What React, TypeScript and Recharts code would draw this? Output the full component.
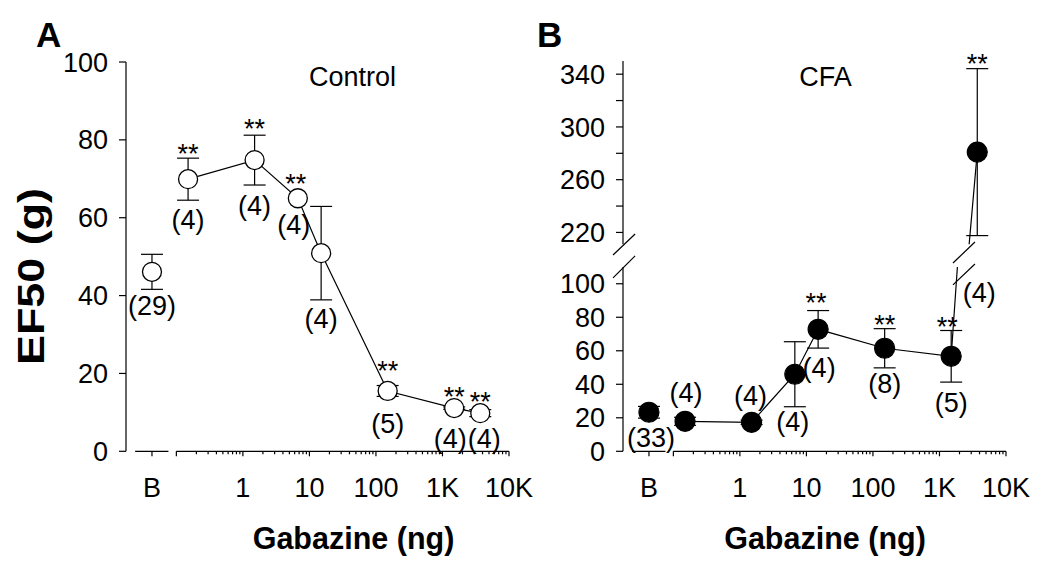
import React from 'react';
import { LineChart, Line, XAxis, YAxis, ErrorBar, ReferenceLine, LabelList } from 'recharts';

const FONT = '"Liberation Sans", Arial, Helvetica, sans-serif';
const W = 1050;
const H = 573;

// ---------- data ----------
const doses = [0.15, 1.5, 6.7, 15, 150, 1500, 3700]; // Gabazine (ng)
const BASELINE_X = 0.043; // where the "B" (baseline) category sits on the dose axis

const controlBaseMean = 46.1;
const controlBaseSem = 4.5;
const controlBaseN = 29;
const controlMeans = [69.9, 74.8, 65.0, 50.9, 15.5, 11.1, 9.8];
const controlSems: (number | null)[] = [5.4, 6.4, null, 12, 1.4, 0.3, 0.9];
const controlN = [4, 4, 4, 4, 5, 4, 4];
const controlSig = ['**', '**', '**', '', '**', '**', '**'];

const cfaBaseMean = 23.3;
const cfaBaseSem = 3.5;
const cfaBaseN = 33;
const cfaMeans = [17.9, 17.3, 46.0, 72.8, 61.5, 56.7, 280.9];
const cfaSems: (number | null)[] = [2.4, 1.3, 19.4, 11.2, 11.7, 15.4, 63.3];
const cfaN = [4, 4, 4, 4, 8, 5, 4];
const cfaSig = ['', '', '', '**', '**', '**', '**'];

// ticks
const xMajorTicks = [0.1, 1, 10, 100, 1000, 10000];
const xMajorLabels = ['', '1', '10', '100', '1K', '10K'];
const xMinorTicks = [
  0.2, 0.3, 0.4, 0.5, 0.6, 0.7, 0.8, 0.9,
  2, 3, 4, 5, 6, 7, 8, 9,
  20, 30, 40, 50, 60, 70, 80, 90,
  200, 300, 400, 500, 600, 700, 800, 900,
  2000, 3000, 4000, 5000, 6000, 7000, 8000, 9000,
];
const controlYTicks = [0, 20, 40, 60, 80, 100];
const cfaLowerYTicks = [0, 20, 40, 60, 80, 100];
const cfaUpperYTicks = [220, 240, 260, 280, 300, 320, 340];
const cfaUpperYLabels = [220, 260, 300, 340];

// ---------- layout / style (not data) ----------
const X_DOMAIN: [number, number] = [0.0175, 10000];
const B_SEGMENT = [0.024, 0.076];
const LOWER_MAX = 110;
const UPPER_DOMAIN: [number, number] = [211, 350];
const TXT = 27;

// error bars small enough to sit inside the marker are drawn on top of it
const controlBaseErrOnTop = false;
const controlErrOnTop = [false, false, false, false, true, true, true];
const cfaBaseErrOnTop = true;
const cfaErrOnTop = [true, true, false, false, false, false, false];

// annotation offsets [dx, dy] relative to the marker centre (index 0 = baseline)
const controlNOffsets: ([number, number] | null)[] = [[0, 43], [0, 50], [0, 55], [-4, 36], [0, 75], [0, 42], [-4, 40], [4, 35]];
const controlStarOffsets: ([number, number] | null)[] = [null, [0, -16], [0, -22], [-2, -5], null, [0, -11], [0, -2], [0, -2]];
const cfaNOffsets: ([number, number] | null)[] = [[2, 35], [1, -19], [-1, -17], [-2, 57], [1, 48], [0, 45], [0, 56], [2, 150]];
const cfaStarOffsets: ([number, number] | null)[] = [null, null, null, null, [-2, -17], [0, -14], [-4, -20], [0, -79]];

// axis-break marks (data coordinates)
const upperBreakMarks = [
  [{ x: 0.0124, y: 202.9 }, { x: 0.0266, y: 218.8 }],
  [{ x: 1596, y: 196.8 }, { x: 3412, y: 212.7 }],
];
const lowerBreakMarks = [
  [{ x: 0.0124, y: 103.5 }, { x: 0.0266, y: 116.6 }],
  [{ x: 1596, y: 99.3 }, { x: 3412, y: 111.8 }],
];

type Row = {
  x: number;
  base?: number;
  baseSem?: number;
  baseSemTop?: number;
  mean?: number;
  sem?: number;
  semTop?: number;
  n: number;
  sig: string;
};

function buildRows(
  baseMean: number, baseSem: number, baseN: number, baseTop: boolean,
  means: number[], sems: (number | null)[], ns: number[], sigs: string[], tops: boolean[],
): Row[] {
  return [
    { x: BASELINE_X, base: baseMean, baseSem, baseSemTop: baseTop ? baseSem : undefined, n: baseN, sig: '' },
    ...doses.map((d, i) => ({
      x: d,
      mean: means[i],
      sem: sems[i] == null ? undefined : (sems[i] as number),
      semTop: tops[i] && sems[i] != null ? (sems[i] as number) : undefined,
      n: ns[i],
      sig: sigs[i],
    })),
  ];
}

const controlRows = buildRows(controlBaseMean, controlBaseSem, controlBaseN, controlBaseErrOnTop,
  controlMeans, controlSems, controlN, controlSig, controlErrOnTop);
const cfaRows = buildRows(cfaBaseMean, cfaBaseSem, cfaBaseN, cfaBaseErrOnTop,
  cfaMeans, cfaSems, cfaN, cfaSig, cfaErrOnTop);

const allXTicks = [BASELINE_X, ...xMajorTicks, ...xMinorTicks];

const XTick = (props: any) => {
  const { x, y, payload } = props;
  const v = payload.value;
  const isBase = Math.abs(v - BASELINE_X) < 1e-9;
  const mi = xMajorTicks.findIndex((t) => Math.abs(t - v) < 1e-9);
  const major = isBase || mi >= 0;
  const label = isBase ? 'B' : mi >= 0 ? xMajorLabels[mi] : '';
  return (
    <g>
      <line x1={x} x2={x} y1={y} y2={y + (major ? 5 : 3)} stroke="#000" strokeWidth={1.2} />
      {label ? (
        <text x={x} y={y + 46} textAnchor="middle" fontSize={TXT} fontFamily={FONT} fill="#000">
          {label}
        </text>
      ) : null}
    </g>
  );
};

function makeLabelContent(
  rows: Row[], key: 'mean' | 'base',
  nOff: ([number, number] | null)[], starOff: ([number, number] | null)[],
  inRange: (v: number) => boolean,
) {
  return (props: any) => {
    const i = props.index;
    const row = rows[i];
    if (!row) return null;
    const v = row[key];
    if (v == null || !inRange(v)) return null;
    const vb = props.viewBox || {};
    const cx = vb.x ?? props.x;
    const cy = vb.y ?? props.y;
    if (cx == null || cy == null) return null;
    const no = nOff[i];
    const so = starOff[i];
    return (
      <g>
        {no ? (
          <text x={cx + no[0]} y={cy + no[1]} textAnchor="middle" fontSize={TXT} fontFamily={FONT} fill="#000">
            ({row.n})
          </text>
        ) : null}
        {so && row.sig ? (
          <text x={cx + so[0]} y={cy + so[1]} textAnchor="middle" fontSize={TXT} fontFamily={FONT} fill="#000">
            {row.sig}
          </text>
        ) : null}
      </g>
    );
  };
}

const axisStroke = { stroke: '#000', strokeWidth: 1.2 };
const yTickStyle = { fontSize: TXT, fill: '#000', fontFamily: FONT };

type PanelProps = {
  rows: Row[];
  filled: boolean;
  margin: { top: number; right: number; bottom: number; left: number };
  yDomain: [number, number];
  yTicks: number[];
  yFormatter?: (v: number) => string;
  showX: boolean;
  overflow: boolean;
  inRange: (v: number) => boolean;
  nOff: ([number, number] | null)[];
  starOff: ([number, number] | null)[];
  breakMarks?: { x: number; y: number }[][];
};

function Panel(p: PanelProps) {
  const dot = p.filled
    ? { r: 10, fill: '#000', stroke: '#000', strokeWidth: 1.2 }
    : { r: 9.5, fill: '#fff', stroke: '#000', strokeWidth: 1.3 };
  const innerStroke = p.filled ? '#fff' : '#000';
  // error bars are only drawn for points that lie inside this axis segment
  const rows: Row[] = p.rows.map((r) => {
    const baseIn = r.base != null && p.inRange(r.base);
    const meanIn = r.mean != null && p.inRange(r.mean);
    return {
      ...r,
      baseSem: baseIn ? r.baseSem : undefined,
      baseSemTop: baseIn ? r.baseSemTop : undefined,
      sem: meanIn ? r.sem : undefined,
      semTop: meanIn ? r.semTop : undefined,
    };
  });
  return (
    <div style={{ position: 'absolute', left: 0, top: 0, width: W, height: H }}>
      <LineChart width={W} height={H} data={rows} margin={p.margin}>
        <XAxis
          dataKey="x"
          type="number"
          scale="log"
          domain={X_DOMAIN}
          allowDataOverflow
          ticks={allXTicks}
          tick={XTick}
          tickSize={0}
          tickMargin={0}
          tickLine={false}
          axisLine={false}
          interval={0}
          height={60}
          hide={!p.showX}
        />
        <YAxis
          type="number"
          domain={p.yDomain}
          allowDataOverflow={p.overflow}
          ticks={p.yTicks}
          interval={0}
          width={60}
          tickSize={7}
          tickMargin={11}
          tick={yTickStyle}
          tickLine={axisStroke}
          axisLine={axisStroke}
          tickFormatter={p.yFormatter}
        />
        {p.showX ? (
          <ReferenceLine
            segment={[{ x: B_SEGMENT[0], y: p.yDomain[0] }, { x: B_SEGMENT[1], y: p.yDomain[0] }]}
            stroke="#000"
            strokeWidth={1.3}
            ifOverflow="visible"
          />
        ) : null}
        {p.showX ? (
          <ReferenceLine
            segment={[{ x: xMajorTicks[0], y: p.yDomain[0] }, { x: xMajorTicks[xMajorTicks.length - 1], y: p.yDomain[0] }]}
            stroke="#000"
            strokeWidth={1.3}
            ifOverflow="visible"
          />
        ) : null}
        {(p.breakMarks || []).map((seg, k) => (
          <ReferenceLine key={'brk' + k} segment={seg} stroke="#000" strokeWidth={1.2} ifOverflow="visible" />
        ))}
        <Line
          dataKey="base"
          stroke="none"
          dot={dot}
          activeDot={false}
          isAnimationActive={false}
        >
          <ErrorBar dataKey="baseSem" width={11} stroke="#000" strokeWidth={1.2} direction="y" />
          <LabelList content={makeLabelContent(rows, 'base', p.nOff, p.starOff, p.inRange)} />
        </Line>
        <Line
          dataKey="mean"
          type="linear"
          stroke="#000"
          strokeWidth={1.2}
          dot={dot}
          activeDot={false}
          isAnimationActive={false}
        >
          <ErrorBar dataKey="sem" width={11} stroke="#000" strokeWidth={1.2} direction="y" />
          <LabelList content={makeLabelContent(rows, 'mean', p.nOff, p.starOff, p.inRange)} />
        </Line>
        <Line dataKey="base" stroke="none" dot={false} activeDot={false} isAnimationActive={false}>
          <ErrorBar dataKey="baseSemTop" width={8} stroke={innerStroke} strokeWidth={1.2} direction="y" />
        </Line>
        <Line dataKey="mean" stroke="none" dot={false} activeDot={false} isAnimationActive={false}>
          <ErrorBar dataKey="semTop" width={8} stroke={innerStroke} strokeWidth={1.2} direction="y" />
        </Line>
      </LineChart>
    </div>
  );
}

export default function App() {
  return (
    <div style={{ position: 'absolute', left: 0, top: 0, width: W, height: H, background: '#fff', fontFamily: FONT }}>
      {/* Panel A: Control */}
      <Panel
        rows={controlRows}
        filled={false}
        margin={{ top: 62, right: W - 509, bottom: 61.7, left: 66 }}
        yDomain={[0, 100]}
        yTicks={controlYTicks}
        showX
        overflow={false}
        inRange={() => true}
        nOff={controlNOffsets}
        starOff={controlStarOffsets}
      />
      {/* Panel B lower segment */}
      <Panel
        rows={cfaRows}
        filled
        margin={{ top: 267, right: W - 1006, bottom: 61.7, left: 563 }}
        yDomain={[0, LOWER_MAX]}
        yTicks={cfaLowerYTicks}
        showX
        overflow
        inRange={(v) => v <= LOWER_MAX}
        nOff={cfaNOffsets}
        starOff={cfaStarOffsets}
        breakMarks={lowerBreakMarks}
      />
      {/* Panel B upper segment */}
      <Panel
        rows={cfaRows}
        filled
        margin={{ top: 61, right: W - 1006, bottom: H - 244.3, left: 563 }}
        yDomain={UPPER_DOMAIN}
        yTicks={cfaUpperYTicks}
        yFormatter={(v) => (cfaUpperYLabels.includes(v) ? String(v) : '')}
        showX={false}
        overflow
        inRange={(v) => v >= UPPER_DOMAIN[0]}
        nOff={cfaNOffsets}
        starOff={cfaStarOffsets}
        breakMarks={upperBreakMarks}
      />
      <svg width={W} height={H} style={{ position: 'absolute', left: 0, top: 0, pointerEvents: 'none' }}>
        <text x={36} y={47} fontSize={35} fontWeight="bold" fontFamily={FONT} fill="#000">A</text>
        <text x={537} y={47} fontSize={35} fontWeight="bold" fontFamily={FONT} fill="#000">B</text>
        <text x={352.5} y={86} fontSize={27} textAnchor="middle" fontFamily={FONT} fill="#000">Control</text>
        <text x={825.5} y={86} fontSize={27} textAnchor="middle" fontFamily={FONT} fill="#000">CFA</text>
        <text
          transform="translate(44,276.5) rotate(-90)"
          x={0}
          y={0}
          fontSize={37}
          fontWeight="bold"
          textAnchor="middle"
          fontFamily={FONT}
          fill="#000"
          textLength={177}
          lengthAdjust="spacingAndGlyphs"
        >
          EF50 (g)
        </text>
        <text x={353.5} y={549} fontSize={30.5} fontWeight="bold" textAnchor="middle" fontFamily={FONT} fill="#000">
          Gabazine (ng)
        </text>
        <text x={825} y={549} fontSize={30.5} fontWeight="bold" textAnchor="middle" fontFamily={FONT} fill="#000">
          Gabazine (ng)
        </text>
      </svg>
    </div>
  );
}
